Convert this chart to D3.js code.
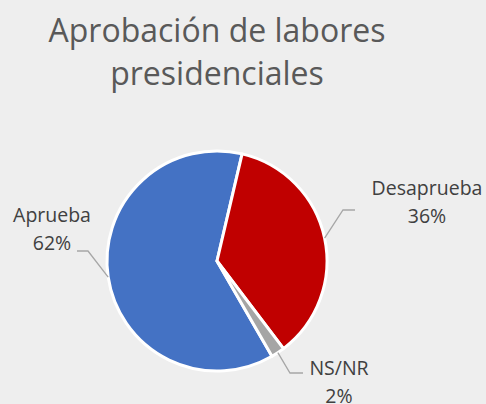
<!DOCTYPE html>
<html>
<head>
<meta charset="utf-8">
<script src="https://cdn.jsdelivr.net/npm/d3@7"></script>
<style>
  html, body { margin: 0; padding: 0; background: #eeeeee; }
  svg { display: block; }
</style>
</head>
<body>
<div id="chart"></div>
<script>
// data
const categories = ["Aprueba", "Desaprueba", "NS/NR"];
const values = [62, 36, 2];
const colors = ["#4472c4", "#c00000", "#a5a5a5"];
const titleLines = ["Aprobación de labores", "presidenciales"];

const width = 486, height = 404;
const cx = 217, cy = 261, radius = 110;

// label layout: text anchor point + elbow of leader line
const labelPos = [
  { x: 52, y: 222, elbow: [88, 251], end: [77, 251] },
  { x: 427, y: 195, elbow: [343, 210], end: [355, 210] },
  { x: 339, y: 375, elbow: [290, 373], end: [303, 373] }
];

const svg = d3.select("#chart")
  .append("svg")
    .attr("width", width)
    .attr("height", height);

svg.append("rect")
  .attr("width", width)
  .attr("height", height)
  .attr("fill", "#eeeeee");

// title
svg.append("g")
  .selectAll("text")
  .data(titleLines)
  .join("text")
    .attr("x", 217)
    .attr("y", (d, i) => 42 + i * 43)
    .attr("text-anchor", "middle")
    .attr("font-family", "Open Sans, sans-serif")
    .attr("font-size", 32)
    .attr("fill", "#595959")
    .text(d => d);

const data = categories.map((c, i) => ({ name: c, value: values[i], color: colors[i] }));

// first slice starts at 150 degrees, clockwise
const start = 150 * Math.PI / 180;
const pie = d3.pie()
  .value(d => d.value)
  .sort(null)
  .startAngle(start)
  .endAngle(start + 2 * Math.PI);

const arc = d3.arc()
  .innerRadius(0)
  .outerRadius(radius);

const arcs = pie(data);

const g = svg.append("g")
  .attr("transform", `translate(${cx},${cy})`);

g.selectAll("path")
  .data(arcs)
  .join("path")
    .attr("d", arc)
    .attr("fill", d => d.data.color)
    .attr("stroke", "white")
    .attr("stroke-width", 3)
    .attr("stroke-linejoin", "round");

// leader lines
svg.append("g")
  .selectAll("polyline")
  .data(arcs)
  .join("polyline")
    .attr("points", (d, i) => {
      const a = (d.startAngle + d.endAngle) / 2;
      const px = cx + radius * Math.sin(a);
      const py = cy - radius * Math.cos(a);
      const p = labelPos[i];
      return [[px, py], p.elbow, p.end].map(q => q.join(",")).join(" ");
    })
    .attr("fill", "none")
    .attr("stroke", "#a6a6a6")
    .attr("stroke-width", 1.3);

// labels
const labels = svg.append("g")
  .selectAll("text")
  .data(arcs)
  .join("text")
    .attr("text-anchor", "middle")
    .attr("font-family", "Open Sans, sans-serif")
    .attr("font-size", 19.5)
    .attr("fill", "#404040");

labels.append("tspan")
  .attr("x", (d, i) => labelPos[i].x)
  .attr("y", (d, i) => labelPos[i].y)
  .text(d => d.data.name);

labels.append("tspan")
  .attr("x", (d, i) => labelPos[i].x)
  .attr("y", (d, i) => labelPos[i].y + 28)
  .text(d => d.data.value + "%");
</script>
</body>
</html>
